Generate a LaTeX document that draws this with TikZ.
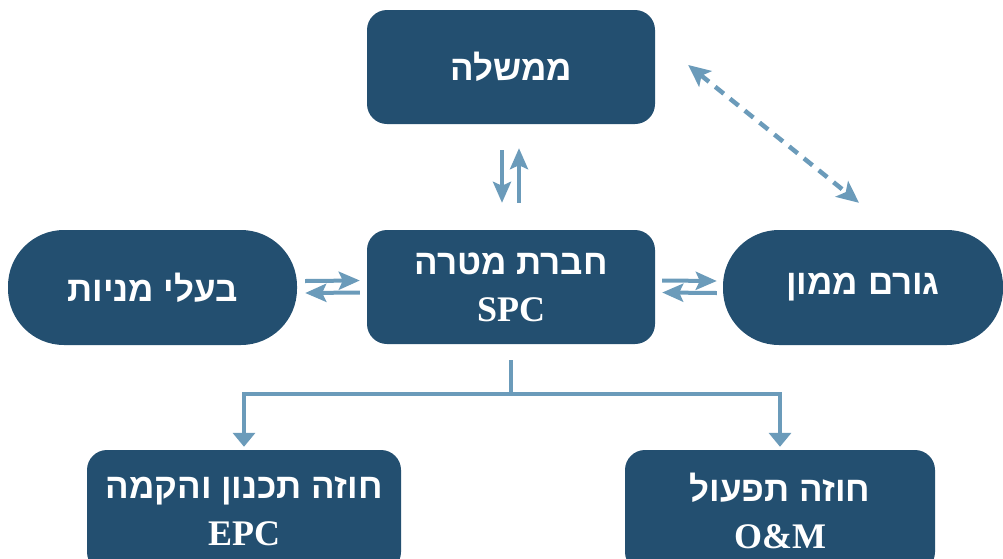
\documentclass[tikz,border=0pt]{standalone}
\usepackage{fontspec}
\setmainfont{Liberation Serif}
\newfontfamily\hebfont[Script=Hebrew]{Liberation Sans}
\TeXXeTstate=1
\usetikzlibrary{arrows.meta}
\definecolor{boxblue}{RGB}{35,79,112}
\definecolor{arrowblue}{RGB}{107,155,186}
\newcommand{\heb}[1]{{\hebfont\bfseries\fontsize{35}{46}\selectfont\beginR #1\endR}}

\begin{document}
\begin{tikzpicture}[x=1pt, y=-1pt,
    box/.style={fill=boxblue, text=white, rounded corners=20pt, inner sep=0pt,
      minimum width=288pt, minimum height=114pt, align=center,
      font=\bfseries\fontsize{36}{47}\selectfont},
    pill/.style={box, rounded corners=56pt},
    pairarr/.style={draw=arrowblue, line width=4pt, -{Stealth[length=21pt,width=18pt,inset=4pt]}},
    farr/.style={draw=arrowblue, line width=4.5pt, dash pattern=on 11pt off 8pt,
      {Stealth[length=22pt,width=20pt,inset=5pt]}-{Stealth[length=22pt,width=20pt,inset=5pt]}},
    treeline/.style={draw=arrowblue, line width=3.5pt},
    treearr/.style={treeline, -{Triangle[length=14pt,width=22pt]}}]
  \useasboundingbox (0,0) rectangle (1003,558);
  % boxes
  \node[box] (gov) at (511,67) {\heb{ממשלה}};
  \node[box] (spc) at (511,287) {\heb{חברת מטרה}\\SPC};
  \node[pill, minimum width=289pt, minimum height=115pt] (owners) at (152.5,287.5) {\heb{בעלי מניות}};
  \node[pill, minimum width=280pt, minimum height=115pt] (fin) at (863,287.5) {\heb{גורם ממון}};
  \node[box, minimum width=314pt, minimum height=122pt] (epc) at (244,511) {\heb{חוזה תכנון והקמה}\\EPC};
  \node[box, minimum width=310pt, minimum height=122pt] (om) at (780,511) {\heb{חוזה תפעול}\\O\&M};
  % arrows
  \draw[pairarr] ([xshift=-9pt,yshift=-26pt]gov.south) -- ([xshift=-9pt,yshift=27pt]spc.north);
  \draw[pairarr] ([xshift=8pt,yshift=27pt]spc.north) -- ([xshift=8pt,yshift=-24pt]gov.south);
  \draw[pairarr] ([xshift=8pt,yshift=6.5pt]owners.east) -- ([xshift=-7pt,yshift=6.5pt]spc.west);
  \draw[pairarr] ([xshift=-7pt,yshift=-5.5pt]spc.west) -- ([xshift=8pt,yshift=-5.5pt]owners.east);
  \draw[pairarr] ([xshift=7pt,yshift=6.5pt]spc.east) -- ([xshift=-6pt,yshift=6.5pt]fin.west);
  \draw[pairarr] ([xshift=-6pt,yshift=-5.5pt]fin.west) -- ([xshift=7pt,yshift=-5.5pt]spc.east);
  \draw[farr] ([xshift=33pt,yshift=2pt]gov.east) -- ([xshift=-4pt,yshift=27pt]fin.north);
  % tree
  \coordinate (stem) at ([yshift=-16pt]spc.south);
  \coordinate (fork) at ([yshift=-50pt]spc.south);
  \draw[treeline] (stem) -- (fork);
  \draw[treearr] (fork) -| ([yshift=3pt]epc.north);
  \draw[treearr] (fork) -| ([yshift=3pt]om.north);
\end{tikzpicture}
\end{document}
